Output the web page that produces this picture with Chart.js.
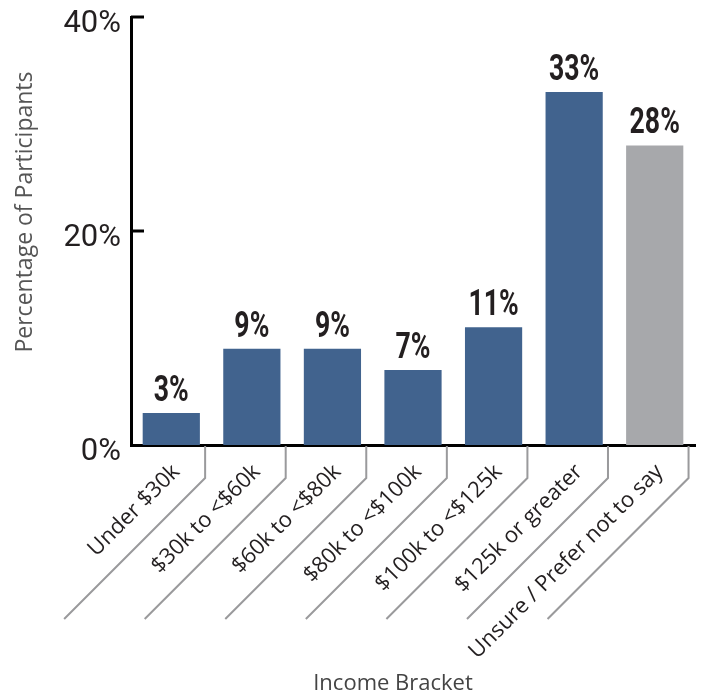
<!DOCTYPE html>
<html>
<head>
<meta charset="utf-8">
<script src="https://cdn.jsdelivr.net/npm/chart.js@4/dist/chart.umd.min.js"></script>
<style>
  html, body { margin: 0; padding: 0; background: #fff; }
  #wrap { position: relative; width: 706px; height: 698px; }
</style>
</head>
<body>
<div id="wrap"><canvas id="chart"></canvas></div>
<script>
const categories = ['Under $30k', '$30k to <$60k', '$60k to <$80k', '$80k to <$100k', '$100k to <$125k', '$125k or greater', 'Unsure / Prefer not to say']
const percents = [3, 9, 9, 7, 11, 33, 28]
const barColors = ['#41638e', '#41638e', '#41638e', '#41638e', '#41638e', '#41638e', '#a7a8ab']
const yTicks = [0, 20, 40]

const NUM = 'Roboto, "DejaVu Sans Condensed", sans-serif'
const SANS = '"Open Sans", "Noto Sans", sans-serif'

// percent labels above the bars (squeezed to look condensed)
const valueLabels = {
    id: 'valueLabels',
    afterDatasetsDraw(chart) {
        const ctx = chart.ctx
        const meta = chart.getDatasetMeta(0)
        const squeeze = 0.74
        ctx.save()
        ctx.font = 'bold 36px ' + NUM
        ctx.fillStyle = '#231f20'
        ctx.textAlign = 'center'
        ctx.textBaseline = 'alphabetic'
        meta.data.forEach((bar, i) => {
            ctx.save()
            ctx.translate(bar.x, bar.y - 12)
            ctx.scale(squeeze, 1)
            ctx.fillText(percents[i] + '%', 0, 0)
            ctx.restore()
        })
        ctx.restore()
    }
}

// inward y ticks, slanted gray leaders under the x labels, axis titles
const axisDecor = {
    id: 'axisDecor',
    afterDraw(chart) {
        const ctx = chart.ctx
        const xs = chart.scales.x
        const ys = chart.scales.y
        const step = xs.width / categories.length
        ctx.save()
        ctx.strokeStyle = '#000'
        ctx.lineWidth = 3
        yTicks.slice(1).forEach(v => {
            const y = ys.getPixelForValue(v)
            ctx.beginPath()
            ctx.moveTo(xs.left, y)
            ctx.lineTo(xs.left + 13, y)
            ctx.stroke()
        })
        ctx.strokeStyle = '#9a9a9c'
        ctx.lineWidth = 2
        categories.forEach((c, i) => {
            const px = xs.getPixelForValue(i) + step * 0.42
            const knee = xs.top + 33
            ctx.beginPath()
            ctx.moveTo(px, xs.top + 1)
            ctx.lineTo(px, knee)
            ctx.lineTo(px - 141, knee + 141)
            ctx.stroke()
        })
        ctx.font = '22px ' + SANS
        ctx.fillStyle = '#444'
        ctx.textAlign = 'center'
        ctx.textBaseline = 'middle'
        ctx.fillText('Income Bracket', (xs.left + xs.right) / 2 - 20, 684)

        ctx.fillStyle = '#555'
        ctx.font = '23px ' + SANS
        ctx.translate(25, (ys.top + ys.bottom) / 2 - 19)
        ctx.rotate(-Math.PI / 2)
        ctx.fillText('Percentage of Participants', 0, 0)
        ctx.restore()
    }
}

const ctx = document.getElementById('chart').getContext('2d')
new Chart(ctx, {
    type: 'bar',
    data: {
        labels: categories,
        datasets: [{
            data: percents,
            backgroundColor: barColors,
            categoryPercentage: 1,
            barPercentage: 0.71
        }]
    },
    options: {
        responsive: true,
        maintainAspectRatio: false,
        animation: false,
        events: [],
        layout: { padding: { left: 0, right: 11, top: 17, bottom: 0 } },
        plugins: {
            legend: { display: false },
            tooltip: { enabled: false }
        },
        scales: {
            x: {
                z: 1,
                grid: { display: false, drawTicks: false },
                border: { display: true, color: '#000', width: 3 },
                ticks: {
                    autoSkip: false,
                    minRotation: 45,
                    maxRotation: 45,
                    padding: 14,
                    labelOffset: 5,
                    color: '#231f20',
                    font: { family: SANS, size: 22 }
                },
                afterFit(s) { s.height = 253 }
            },
            y: {
                z: 1,
                min: 0,
                max: 40,
                grid: { display: false, drawTicks: false },
                border: { display: true, color: '#000', width: 3 },
                ticks: {
                    stepSize: 20,
                    padding: 10,
                    labelOffset: 7,
                    color: '#231f20',
                    font: { family: NUM, size: 31 },
                    callback: v => v + '%'
                },
                afterFit(s) {
                    s.width = 131
                    s.paddingTop = 0
                    s.paddingBottom = 0
                }
            }
        }
    },
    plugins: [valueLabels, axisDecor]
})
</script>
</body>
</html>
